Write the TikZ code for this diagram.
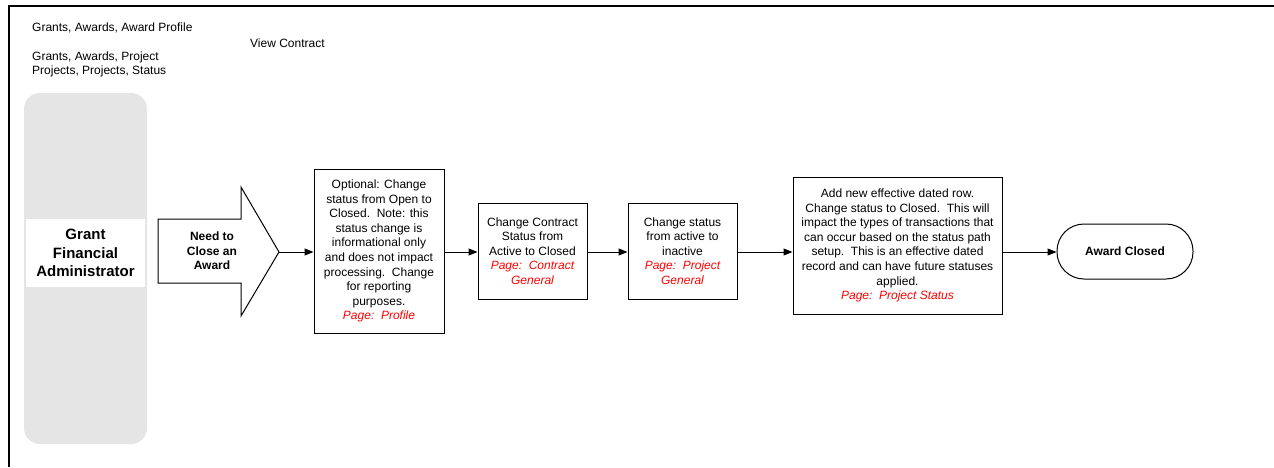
\documentclass[tikz,border=0pt]{standalone}
\usepackage{fontspec}
\setmainfont{Liberation Sans}
\usetikzlibrary{arrows.meta}
\newcommand{\pagelabel}[1]{{\color{red}\itshape #1}}
\begin{document}
\begin{tikzpicture}[x=1pt,y=-1pt,
  body/.style={font=\fontsize{12}{14.6}\selectfont},
  heading/.style={font=\fontsize{12}{14.6}\selectfont\bfseries},
  navtext/.style={body, anchor=west, inner sep=0pt},
  stepbox/.style={draw, line width=1pt, fill=white, align=center, inner sep=0pt, body},
  flow/.style={-{Triangle[length=9pt,width=7pt]}, line width=1pt},
  outline/.style={draw, line width=1pt, fill=white}
]
\useasboundingbox (0,0) rectangle (1274,467);

% page frame (top and left edges)
\draw[line width=1.5pt] (1274,6) -- (9,6) -- (9,467);

% navigation paths
\node[navtext] (nav1) at (32,28) {Grants, Awards, Award Profile};
\node[navtext] (nav2) at (250,43) {View Contract};
\node[navtext] (nav3) at (32,57) {Grants, Awards, Project};
\node[navtext] (nav4) at (32,71) {Projects, Projects, Status};

% swimlane for the role
\node[fill=black!10, rounded corners=16pt, minimum width=123pt, minimum height=351pt, inner sep=0pt] (lane) at (85.5,268.5) {};
\node[fill=white, minimum width=119pt, minimum height=68pt, inner sep=0pt, align=center,
      font=\fontsize{15}{18.5}\selectfont\bfseries] (actor) at (85.5,253) {Grant\\Financial\\Administrator};

% trigger arrow
\draw[outline] (158,219) -- (241,219) -- (241,187) -- (279,252) -- (241,316) -- (241,283) -- (158,283) -- cycle;
\node[heading, align=center, inner sep=0pt] (trigger) at (212,251) {Need to\\Close an\\Award};
\coordinate (tip) at (279,252);

% process steps
\node[stepbox, minimum width=130pt, minimum height=164pt] (s1) at (379,251)
  {Optional: Change\\status from Open to\\Closed.\ \ Note: this\\status change is\\informational only\\and does not impact\\processing.\ \ Change\\for reporting\\purposes.\\\pagelabel{Page:\ \ Profile}};
\node[stepbox, minimum width=109pt, minimum height=96pt] (s2) at (532.5,251)
  {Change Contract\\Status from\\Active to Closed\\\pagelabel{Page:\ \ Contract}\\\pagelabel{General}};
\node[stepbox, minimum width=109pt, minimum height=96pt] (s3) at (682.5,251)
  {Change status\\from active to\\inactive\\\pagelabel{Page:\ \ Project}\\\pagelabel{General}};
\node[stepbox, minimum width=209pt, minimum height=137pt] (s4) at (897.5,245.5)
  {Add new effective dated row.\\Change status to Closed.\ \ This will\\impact the types of transactions that\\can occur based on the status path\\setup.\ \ This is an effective dated\\record and can have future statuses\\applied.\\\pagelabel{Page:\ \ Project Status}};

% end state
\node[draw, line width=1pt, rounded corners=27pt, minimum width=136pt, minimum height=55pt, inner sep=0pt, heading] (done) at (1125,251.5) {Award Closed};

% connectors
\draw[flow] (tip) -- (tip -| s1.west);
\draw[flow] (s1.east |- tip) -- (tip -| s2.west);
\draw[flow] (s2.east |- tip) -- (tip -| s3.west);
\draw[flow] (s3.east |- tip) -- (tip -| s4.west);
\draw[flow] (s4.east |- tip) -- (tip -| done.west);
\end{tikzpicture}
\end{document}
